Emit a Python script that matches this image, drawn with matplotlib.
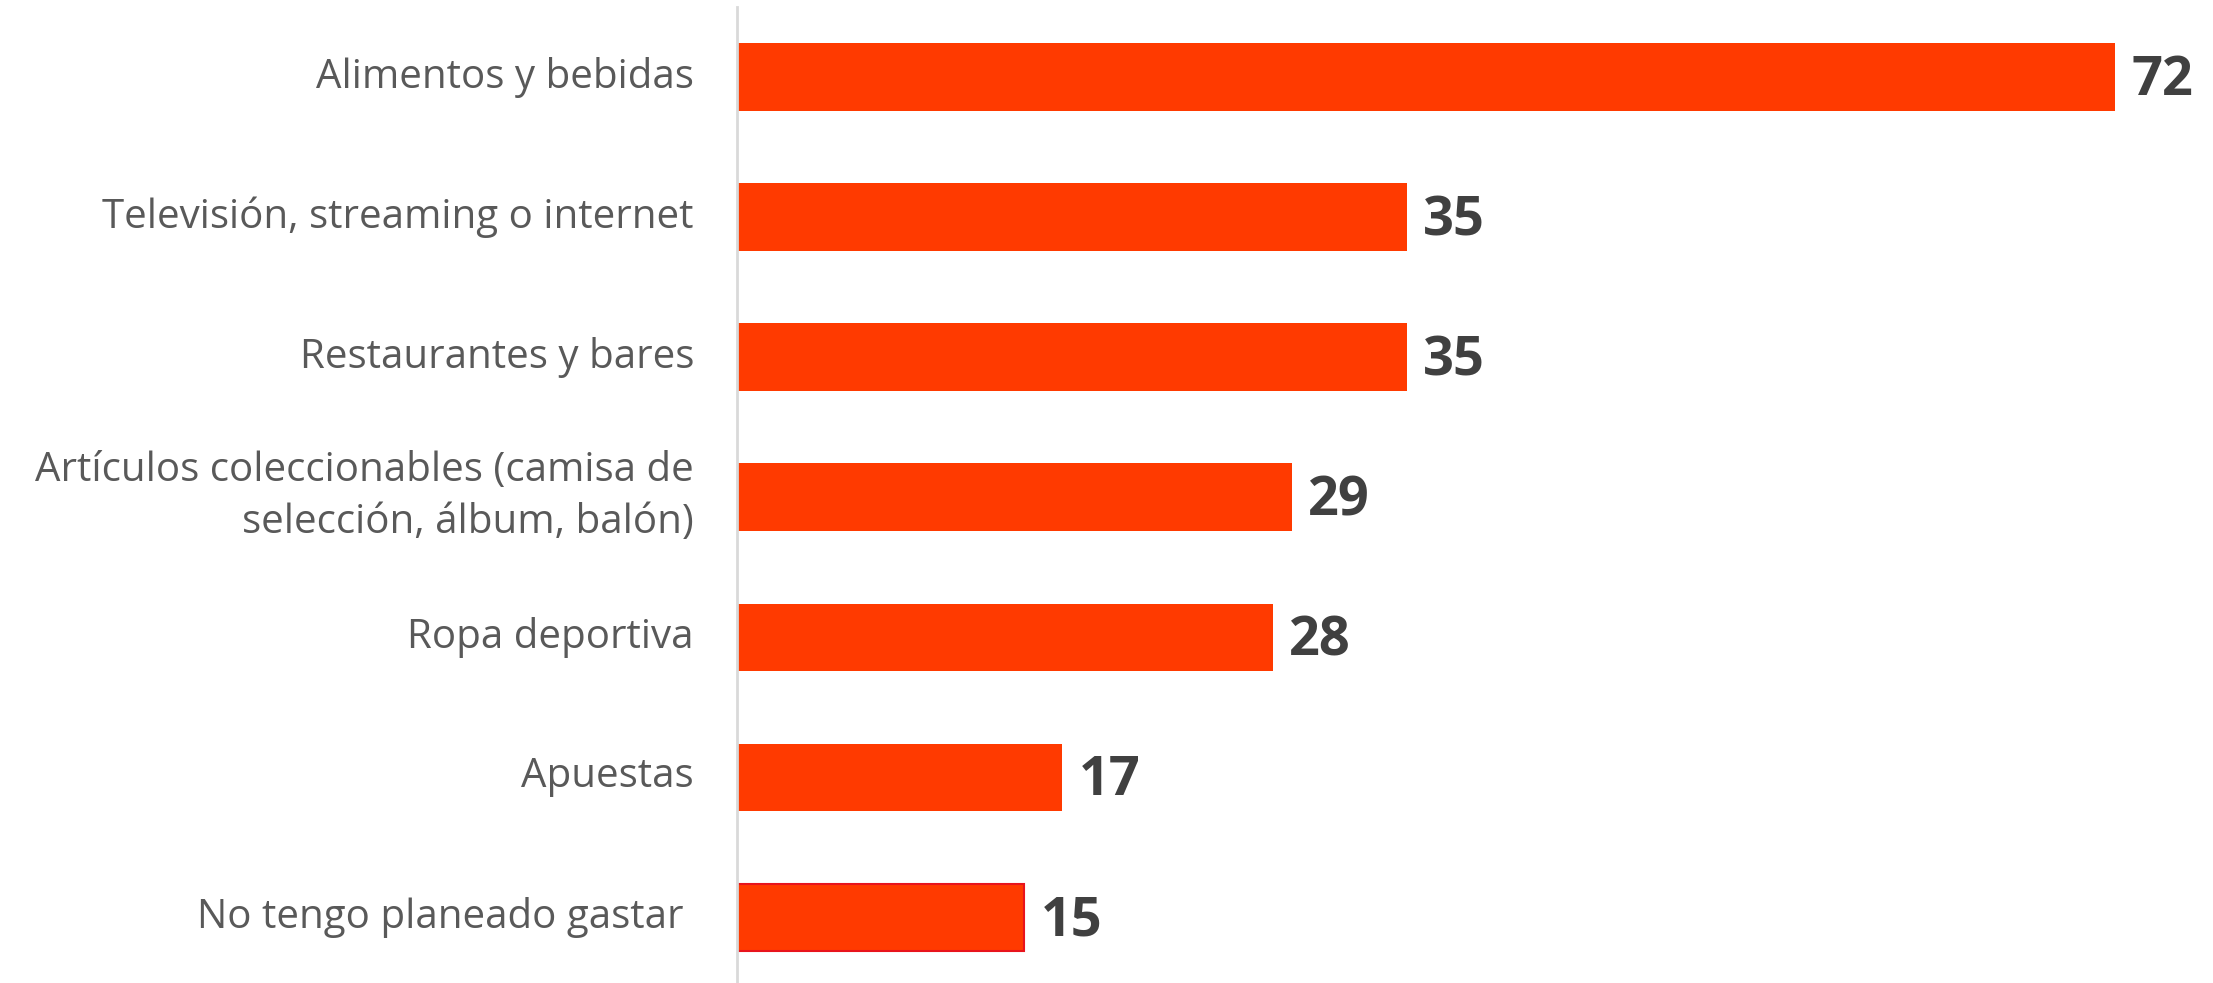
import matplotlib.pyplot as plt

categories = [
    "Alimentos y bebidas",
    "Televisión, streaming o internet",
    "Restaurantes y bares",
    "Artículos coleccionables (camisa de\nselección, álbum, balón)",
    "Ropa deportiva",
    "Apuestas",
    "No tengo planeado gastar ",
]
values = [72, 35, 35, 29, 28, 17, 15]

bar_color = "#FF3A00"
label_color = "#595959"
value_color = "#404040"

fig = plt.figure(figsize=(22.13, 9.83), dpi=100)
ax = fig.add_axes([737 / 2213, 0.0, 1 - 737 / 2213, 1 - 7 / 983])

y = list(range(len(categories)))
bars = ax.barh(y, values, height=0.48, color=bar_color)
# last bar has a thin red outline in the original
bars[-1].set_edgecolor("#E8141C")
bars[-1].set_linewidth(1.5)

ax.set_ylim(len(categories) - 0.53, -0.5)
ax.set_xlim(0, 77.1)

ax.set_yticks(y)
ax.set_yticklabels(categories, fontsize=29, color=label_color,
                   family="Open Sans", linespacing=1.38, ha="right",
                   va="center")
ax.tick_params(axis="y", length=0, pad=31)
ax.set_xticks([])

for sp in ["top", "right", "bottom"]:
    ax.spines[sp].set_visible(False)
ax.spines["left"].set_color("#D9D9D9")
ax.spines["left"].set_linewidth(2)

for yi, v in zip(y, values):
    ax.text(v + 0.85, yi + 0.03, str(v), va="center", ha="left",
            fontsize=39, fontweight="bold", color=value_color,
            family="Open Sans")

fig.savefig("out.png", dpi=100)
